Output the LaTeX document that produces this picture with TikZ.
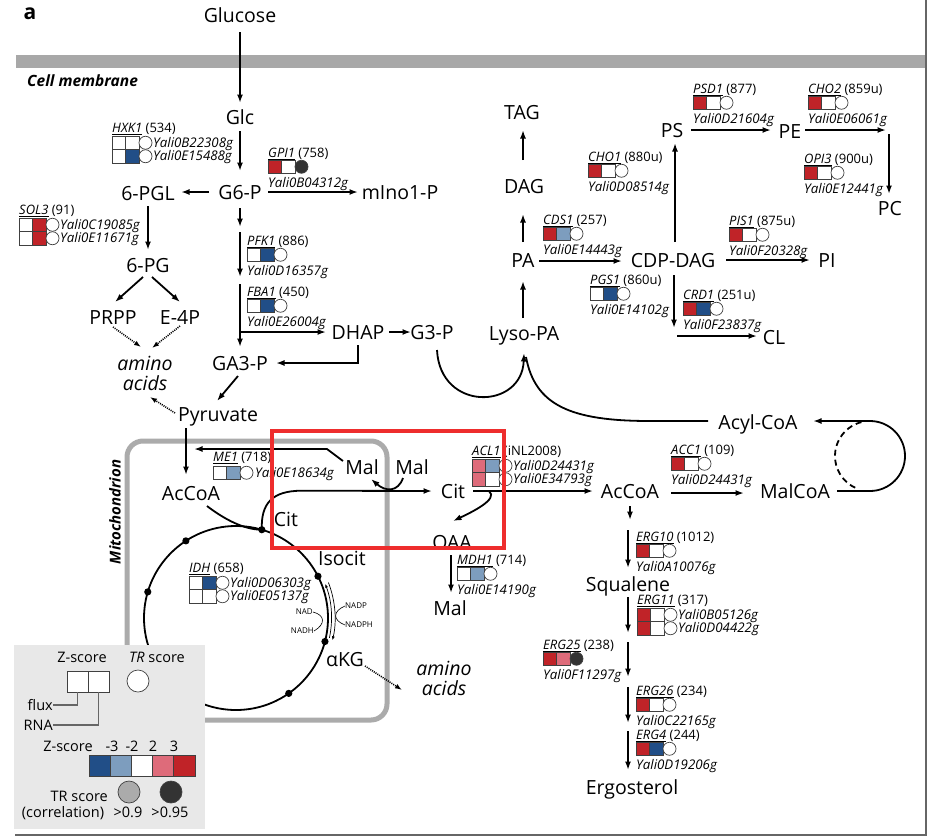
\documentclass[tikz,border=0pt]{standalone}
\usepackage{fontspec}
\setmainfont{Open Sans}
\usetikzlibrary{arrows.meta,calc}

\definecolor{zdb}{HTML}{214E87}
\definecolor{zlb}{HTML}{7D9DBE}
\definecolor{zlr}{HTML}{DE6B7A}
\definecolor{zr}{HTML}{C02328}
\definecolor{tgray}{HTML}{ABABAB}
\definecolor{tdark}{HTML}{333333}
\definecolor{membranegray}{HTML}{A8A8A8}
\definecolor{mitogray}{HTML}{ABABAB}
\definecolor{legendbg}{HTML}{E8E8E8}
\definecolor{hlred}{HTML}{EE2D2D}

\tikzset{
  pics/gb/.style n args={3}{code={
    \fill[#1] (0,0) rectangle (13.5,13.5);
    \fill[#2] (13.5,0) rectangle (27,13.5);
    \draw[gboxline] (0,0) rectangle (27,13.5) (13.5,0) -- (13.5,13.5);
    \draw[gboxline,fill=#3] (33.5,6.75) circle[radius=6.5];
  }},
  gboxline/.style={draw=black!75,line width=0.7pt},
  met/.style={font=\fontsize{19.5}{21}\selectfont,text height=14pt,text depth=0pt,inner sep=0pt},
  glab/.style={font=\fontsize{13}{14}\selectfont,anchor=west,inner sep=0pt,text height=9.5pt,text depth=0.5pt},
  gid/.style={font=\fontsize{13.3}{14}\selectfont\itshape,anchor=west,inner sep=0pt,text height=9.5pt,text depth=0.5pt},
  lg/.style={font=\fontsize{14.5}{16}\selectfont,inner sep=0pt},
  nadlab/.style={font=\fontsize{8}{9}\selectfont,inner sep=0pt},
  flow/.style={line width=1.8pt,-{Latex[length=8.5pt,width=6pt]}},
  plainline/.style={line width=1.8pt},
  dotflow/.style={line width=1.6pt,dash pattern=on 1pt off 1.1pt,-{Latex[length=7pt,width=5pt]}},
  thinflow/.style={line width=0.7pt,-{Latex[length=4pt,width=3pt]}},
  legline/.style={draw=black!60,line width=1.2pt},
}

% gene with label above and identifier below the score boxes
\newcommand\geneA[8]{%
  \node[glab] (#3-lab) at (#1,#2) {\underline{\textit{#3}} #4};
  \pic at (#1,#2+7) {gb={#5}{#6}{#7}};
  \node[gid] (#3-id) at (#1,#2+29.5) {#8};
}
% gene with two isoforms, identifiers to the right
\newcommand\geneB[8]{%
  \node[glab] (#3-lab) at (#1,#2) {\underline{\textit{#3}} #4};
  \pic at (#1,#2+8) {gb={#5}{#6}{white}};
  \pic at (#1,#2+21.5) {gb={#7}{#8}{white}};
}
\newcommand\geneIDs[5]{%
  \node[gid] (#1-id1) at (#2+41,#3+14.75) {#4};
  \node[gid] (#1-id2) at (#2+41,#3+28.25) {#5};
}

\begin{document}
\begin{tikzpicture}[x=1pt,y=-1pt]
\useasboundingbox (0,0) rectangle (928,838);
\fill[white] (0,0) rectangle (928,838);

% panel label, membrane and frame
\node[font=\fontsize{21}{24}\selectfont\bfseries,inner sep=0pt] (panel) at (30,14) {a};
\fill[membranegray] (16,55) rectangle (926,68);
\draw[black!60,line width=1.5pt] (926,0) -- (926,835) -- (15,835);
\node[font=\fontsize{15.5}{17}\selectfont\bfseries\itshape,anchor=west,inner sep=0pt] (cellmem) at (27,81) {Cell membrane};

% mitochondrion compartment
\draw[mitogray,line width=5pt,rounded corners=16pt] (127,441) rectangle (387,720);
\node[font=\fontsize{15}{16}\selectfont\bfseries\itshape,rotate=90,inner sep=0pt] (mitolab) at (115,512) {Mitochondrion};

% TCA cycle
\coordinate (tca) at (236,618);
\draw[line width=1.8pt] (tca) circle[radius=92];
\foreach \a/\n in {-73.7/c1,-27/c2,14.8/c3,55/c4,-123/c5,-163.5/c6}{
  \coordinate (\n) at ($(tca)+(\a:92)$);
  \fill (\n) circle[radius=3.6];
}
% IDH cofactor arrows
\draw[thinflow] ($(tca)+(12:95.5)$) arc[start angle=12,end angle=-21,radius=95.5];
\draw[thinflow] ($(tca)+(-21:99)$) arc[start angle=-21,end angle=13,radius=99];
\node[nadlab,anchor=east] (nad) at (313,612) {NAD};
\node[nadlab,anchor=east] (nadh) at (314,631) {NADH};
\node[nadlab,anchor=west] (nadp) at (345,606) {NADP};
\node[nadlab,anchor=west] (nadph) at (345,625) {NADPH};
\draw[line width=0.6pt] (nad.east) .. controls (325,615) and (326,624) .. (nadh.east);
\draw[line width=0.6pt] (nadp.west) .. controls (333,611) and (332,620) .. (nadph.west);

% metabolites
\node[met] (glucose) at (240,15) {Glucose};
\node[met] (glc) at (240,117) {Glc};
\node[met] (g6p) at (240,192) {G6-P};
\node[met] (pgl) at (148,193) {6-PGL};
\node[met] (ino) at (400,192) {mIno1-P};
\node[met] (pg) at (148,265) {6-PG};
\node[met] (prpp) at (113,317) {PRPP};
\node[met] (e4p) at (180,317) {E-4P};
\node[font=\fontsize{19.5}{20}\selectfont\itshape,align=center,inner sep=0pt] (aa1) at (145,373) {amino\\acids};
\node[met] (ga3p) at (240,363) {GA3-P};
\node[met] (dhap) at (358,332) {DHAP};
\node[met] (g3p) at (432,332) {G3-P};
\node[met] (lysopa) at (524,333) {Lyso-PA};
\node[met] (pyr) at (218,414) {Pyruvate};
\node[met] (pa) at (523,260) {PA};
\node[met] (dag) at (524,186) {DAG};
\node[met] (tag) at (522,112) {TAG};
\node[met] (cdpdag) at (673,260) {CDP-DAG};
\node[met] (ps) at (672,130) {PS};
\node[met] (pe) at (790,131) {PE};
\node[met] (pc) at (890,208) {PC};
\node[met] (pi) at (827,260) {PI};
\node[met] (cl) at (774,337) {CL};
\node[met] (acyl) at (758,422) {Acyl-CoA};
\node[met] (accoa) at (630,491) {AcCoA};
\node[met] (malcoa) at (795,491) {MalCoA};
\node[met] (citc) at (453,491) {Cit};
\node[met] (oaa) at (452,542) {OAA};
\node[met] (malc) at (450,608) {Mal};
\node[met] (malm) at (362,467) {Mal};
\node[met] (malx) at (412,467) {Mal};
\node[met] (citm) at (286,519) {Cit};
\node[met] (accoam) at (191,493) {AcCoA};
\node[met] (isocit) at (342,558) {Isocit};
\node[met] (akg) at (345,659) {αKG};
\node[met] (squalene) at (628,584) {Squalene};
\node[met] (ergosterol) at (632,787) {Ergosterol};
\node[font=\fontsize{19.5}{20}\selectfont\itshape,align=center,inner sep=0pt] (aa2) at (444,678) {amino\\acids};

% unnamed intermediates
\coordinate (f6p) at (240,229.5);
\coordinate (fbp) at (240,280.5);
\coordinate (pecorner) at (887,131);
\coordinate (pgp) at (674,335);
\coordinate (aacoa) at (630,525);
\coordinate (lanost) at (628,637.5);
\coordinate (zymo) at (628,682);
\coordinate (fecost) at (628,727);
\coordinate (loopc) at (870,456);
\coordinate (me1end) at (194,449);

% glycolysis and pentose phosphate
\draw[flow] ($(glucose)+(0,17)$) -- ($(glc)+(0,-14)$);
\draw[flow] ($(glc)+(0,14)$) -- ($(g6p)+(0,-21)$);
\draw[flow] ($(g6p)+(-31,0)$) -- ($(pgl)+(33,-1)$);
\draw[flow] ($(g6p)+(28,0)$) -- ($(ino)+(-42,0)$);
\draw[flow] ($(g6p)+(0,16)$) -- ($(f6p)+(0,-2.5)$);
\draw[flow] ($(f6p)+(0,2.5)$) -- ($(fbp)+(0,-3.5)$);
\draw[flow] ($(fbp)+(0,3.5)$) -- ($(ga3p)+(0,-16)$);
\draw[flow] ($(fbp)+(0,51.5)$) -- ($(dhap)+(-32,0)$);
\draw[flow] ($(dhap)+(0,13)$) |- ($(ga3p)+(36,0)$);
\draw[flow] ($(dhap)+(31,0)$) -- ($(g3p)+(-21,0)$);
\draw[flow] ($(pgl)+(0,13)$) -- ($(pg)+(0,-15)$);
\draw[flow] ($(pg)+(-5,12)$) -- ($(prpp)+(2,-15)$);
\draw[flow] ($(pg)+(4,12)$) -- ($(e4p)+(0,-15)$);
\draw[dotflow] ($(prpp)+(0,10)$) -- ($(aa1)+(-4,-26)$);
\draw[dotflow] ($(e4p)+(0,9)$) -- ($(aa1)+(7,-25)$);
\draw[dotflow] ($(pyr)+(-43,-1)$) -- ($(aa1)+(5,24)$);
\draw[flow] ($(ga3p)+(-2,13)$) -- ($(pyr)+(-1,-13)$);
\draw[flow] ($(pyr)+(-32,14)$) -- ($(accoam)+(-5,-18)$);

% lipid synthesis
\draw[flow] ($(g3p)+(5,18)$) .. controls ($(g3p)+(8,80)$) and ($(lysopa)+(-2,77)$) .. ($(lysopa)+(0,20)$);
\draw[plainline] ($(acyl)+(-50,-1)$) -- ($(acyl)+(-108,-1)$) .. controls ($(acyl)+(-188,-1)$) and ($(lysopa)+(11,72)$) .. ($(lysopa)+(2,24)$);
\draw[flow] ($(lysopa)+(-1,-15)$) -- ($(pa)+(0,21)$);
\draw[flow] ($(pa)+(0,-18)$) -- ($(dag)+(-1,28)$);
\draw[flow] ($(dag)+(-1,-26)$) -- ($(tag)+(1,18)$);
\draw[flow] ($(pa)+(16,1)$) -- ($(cdpdag)+(-51,1)$);
\draw[flow] ($(cdpdag)+(2,-18)$) -- ($(ps)+(3,13)$);
\draw[flow] ($(ps)+(19,0)$) -- ($(pe)+(-19,-1)$);
\draw[flow] ($(pe)+(15,-1)$) -- ($(pecorner)+(-1,-1)$);
\draw[flow] ($(pecorner)+(2,3)$) -- ($(pc)+(-1,-14)$);
\draw[flow] ($(cdpdag)+(53,0)$) -- ($(pi)+(-17,0)$);
\draw[flow] ($(cdpdag)+(1,15)$) -- ($(pgp)+(0,-7)$);
\draw[flow] ($(pgp)+(3,1)$) -- ($(cl)+(-17,-1)$);

% citrate shuttle and cytosolic acetyl-CoA
\draw[flow] (c1) .. controls ($(c1)+(-1,-26)$) and ($(c1)+(10,-39)$) .. ($(c1)+(40,-39)$) -- ($(citc)+(-21,0)$);
\draw[plainline] ($(accoam)+(16,13)$) .. controls ($(accoam)+(33,26)$) and ($(c1)+(-18,0)$) .. (c1);
\draw[flow] ($(malx)+(-9,11)$) .. controls ($(malx)+(-14,25)$) and ($(malm)+(24,25)$) .. ($(malm)+(9,12)$);
\draw[flow] ($(malm)+(-19,-6)$) -- ($(malm)+(-35,-18)$) -- (me1end);
\draw[flow] ($(citc)+(20,0)$) -- ($(accoa)+(-37,0)$);
\draw[flow] ($(citc)+(36,0)$) .. controls ($(citc)+(46,8)$) and ($(oaa)+(20,-30)$) .. ($(oaa)+(1,-21)$);
\draw[flow] ($(oaa)+(-1,13)$) -- ($(malc)+(1,-15)$);
\draw[dotflow] ($(akg)+(20,7)$) -- ($(aa2)+(-42,12)$);
\draw[flow] ($(accoa)+(41,2)$) -- ($(malcoa)+(-51,2)$);
\draw[flow] ($(malcoa)+(42,0)$) -- ($(loopc)+(0,35)$) arc[start angle=90,end angle=-90,radius=35] -- ($(acyl)+(55,-1)$);
\draw[line width=1.8pt,dash pattern=on 6pt off 4pt] ($(loopc)+(115:35)$) arc[start angle=115,end angle=258,radius=35];

% sterol synthesis
\draw[flow] ($(accoa)+(0,15)$) -- ($(aacoa)+(0,-5)$);
\draw[flow] ($(aacoa)+(-2,5)$) -- ($(squalene)+(0,-16)$);
\draw[flow] ($(squalene)+(0,13)$) -- ($(lanost)+(0,-4.5)$);
\draw[flow] ($(lanost)+(0,4.5)$) -- ($(zymo)+(0,-5)$);
\draw[flow] ($(zymo)+(0,5)$) -- ($(fecost)+(0,-4)$);
\draw[flow] ($(fecost)+(0,4)$) -- ($(ergosterol)+(-4,-17)$);

% gene annotations
\geneB{112}{128}{HXK1}{(534)}{white}{white}{white}{zdb}
\geneIDs{HXK1}{112}{128}{Yali0B22308g}{Yali0E15488g}
\geneB{19}{210}{SOL3}{(91)}{white}{zr}{white}{zr}
\geneIDs{SOL3}{19}{210}{Yali0C19085g}{Yali0E11671g}
\geneA{268}{153}{GPI1}{(758)}{zr}{white}{tdark}{Yali0B04312g}
\geneA{247}{241}{PFK1}{(886)}{white}{zdb}{white}{Yali0D16357g}
\geneA{247}{292}{FBA1}{(450)}{white}{zdb}{white}{Yali0E26004g}
\geneA{543}{220}{CDS1}{(257)}{zr}{zlb}{white}{Yali0E14443g}
\geneA{588}{157}{CHO1}{(880u)}{zr}{white}{white}{Yali0D08514g}
\geneA{693}{89}{PSD1}{(877)}{zr}{white}{white}{Yali0D21604g}
\geneA{808}{89}{CHO2}{(859u)}{zr}{white}{white}{Yali0E06061g}
\geneA{804}{159}{OPI3}{(900u)}{zr}{white}{white}{Yali0E12441g}
\geneA{729}{221}{PIS1}{(875u)}{zr}{white}{white}{Yali0F20328g}
\geneA{590}{280}{PGS1}{(860u)}{white}{zdb}{white}{Yali0E14102g}
\geneA{683}{295}{CRD1}{(251u)}{zr}{zdb}{white}{Yali0F23837g}
\geneA{671}{450}{ACC1}{(109)}{zr}{white}{white}{Yali0D24431g}
\geneA{636}{537}{ERG10}{(1012)}{zr}{white}{white}{Yali0A10076g}
\geneA{457}{560}{MDH1}{(714)}{white}{zlb}{white}{Yali0E14190g}
\geneA{543}{645}{ERG25}{(238)}{zr}{zlr}{tdark}{Yali0F11297g}
\geneA{636}{691}{ERG26}{(234)}{zr}{white}{white}{Yali0C22165g}
\geneA{636}{735}{ERG4}{(244)}{zr}{zdb}{white}{Yali0D19206g}
\geneB{472}{451}{ACL1}{(iNL2008)}{zlr}{zlb}{zlr}{white}
\geneIDs{ACL1}{472}{451}{Yali0D24431g}{Yali0E34793g}
\geneB{637}{600}{ERG11}{(317)}{zr}{white}{zr}{white}
\geneIDs{ERG11}{637}{600}{Yali0B05126g}{Yali0D04422g}
\geneB{189}{568}{IDH}{(658)}{white}{zdb}{white}{white}
\geneIDs{IDH}{189}{568}{Yali0D06303g}{Yali0E05137g}
\node[glab] (ME1-lab) at (213,457) {\underline{\textit{ME1}} (718)};
\pic at (213,466) {gb={white}{zlb}{white}};
\node[gid] (ME1-id) at (255,473) {Yali0E18634g};

% legend
\fill[legendbg] (14,645) rectangle (205,829);
\node[lg] (lzs) at (82,657) {Z-score};
\node[lg] (ltr) at (157,657) {\textit{TR} score};
\draw[gboxline,fill=white] (67,671) rectangle (88,692) (88,671) rectangle (109,692);
\draw[gboxline,fill=white] (138,681) circle[radius=11];
\coordinate (sqflux) at (77.5,692);
\coordinate (sqrna) at (98.5,692);
\node[lg,anchor=east] (lflux) at (53,705) {flux};
\node[lg,anchor=east] (lrna) at (53,725) {RNA};
\draw[legline] (lflux.east) -| (sqflux);
\draw[legline] (lrna.east) -| (sqrna);
\node[lg] (lzs2) at (68,746) {Z-score};
\node[lg] (lm3) at (112,746) {-3};
\node[lg] (lm2) at (132,746) {-2};
\node[lg] (lp2) at (153,746) {2};
\node[lg] (lp3) at (174,746) {3};
\foreach \c [count=\i from 0] in {zdb,zlb,white,zlr,zr}{
  \draw[gboxline,fill=\c] (89+21.2*\i,755) rectangle (110.2+21.2*\i,776);
}
\node[lg,anchor=east] (ltr2) at (108,796) {TR score};
\draw[gboxline,fill=tgray] (129,792) circle[radius=11];
\draw[gboxline,fill=tdark] (171,792) circle[radius=11];
\node[lg] (lcorr) at (63,813) {(correlation)};
\node[lg] (l09) at (128,812) {>0.9};
\node[lg] (l095) at (170,812) {>0.95};

% highlight frame
\draw[hlred,line width=4pt] (272,431) rectangle (504,548);
\end{tikzpicture}
\end{document}
